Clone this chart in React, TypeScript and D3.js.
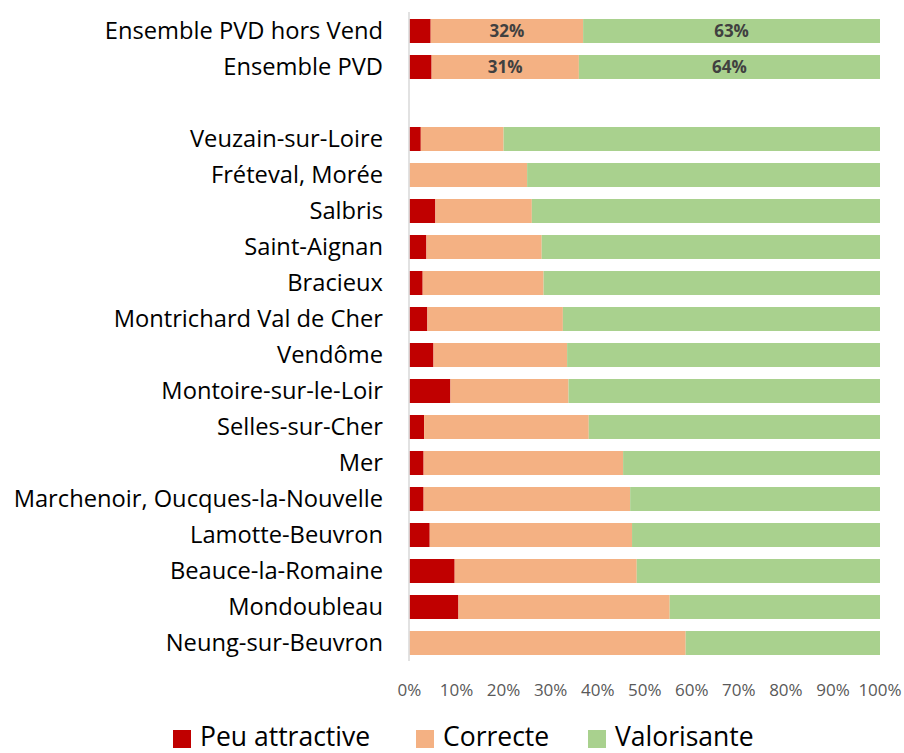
import React from "react";
import * as d3 from "d3";

const categories = [
  "Ensemble PVD hors Vend",
  "Ensemble PVD ",
  "Veuzain-sur-Loire",
  "Fréteval, Morée",
  "Salbris",
  "Saint-Aignan",
  "Bracieux",
  "Montrichard Val de Cher",
  "Vendôme",
  "Montoire-sur-le-Loir",
  "Selles-sur-Cher",
  "Mer",
  "Marchenoir, Oucques-la-Nouvelle",
  "Lamotte-Beuvron",
  "Beauce-la-Romaine",
  "Mondoubleau",
  "Neung-sur-Beuvron",
];
const peuAttractive = [4.5, 4.7, 2.4, 0, 5.5, 3.6, 2.8, 3.8, 5.1, 8.7, 3.1, 3.0, 3.0, 4.3, 9.6, 10.4, 0];
const correcte = [32.4, 31.3, 17.6, 25.0, 20.5, 24.5, 25.7, 28.8, 28.4, 25.1, 35.0, 42.4, 43.9, 43.0, 38.7, 44.9, 58.7];
const valorisante = [63.1, 64.0, 80.0, 75.0, 74.0, 71.9, 71.5, 67.4, 66.5, 66.2, 61.9, 54.6, 53.1, 52.7, 51.7, 44.7, 41.3];
const labelledRows = [0, 1];
const seriesNames = ["Peu attractive", "Correcte", "Valorisante"];
const colors = ["#C00000", "#F4B183", "#A9D18E"];
const ticks = [0, 10, 20, 30, 40, 50, 60, 70, 80, 90, 100];

const FONT = "'Open Sans', sans-serif";

export default function App() {
  const W = 904, H = 753;
  const GAP = "__gap__";
  const domain = [categories[0], categories[1], GAP, ...categories.slice(2)];
  const y = d3.scaleBand<string>().domain(domain).range([13, 661]).paddingInner(1 / 3).paddingOuter(1 / 6);
  const x = d3.scaleLinear().domain([0, 100]).range([409.5, 880]);
  const series = [peuAttractive, correcte, valorisante];
  const stackData = categories.map((c, i) => ({ cat: c, s0: peuAttractive[i], s1: correcte[i], s2: valorisante[i] }));
  const stacked = d3.stack<any>().keys(["s0", "s1", "s2"])(stackData);

  const legendX = [173, 416, 588];

  return (
    <svg width={W} height={H} style={{ position: "absolute", left: 0, top: 0, background: "#fff" }}>
      {stacked.map((layer, li) => (
        <g key={li}>
          {layer.map((d, i) => {
            const y0 = y(categories[i])!;
            const w = x(d[1]) - x(d[0]);
            if (w <= 0) return null;
            return (
              <rect key={i} x={x(d[0])} y={y0} width={w} height={y.bandwidth()} fill={colors[li]} />
            );
          })}
        </g>
      ))}
      {labelledRows.map((i) =>
        [1, 2].map((li) => {
          const d = stacked[li][i];
          const v = series[li][i];
          return (
            <text
              key={`${i}-${li}`}
              x={(x(d[0]) + x(d[1])) / 2}
              y={y(categories[i])! + y.bandwidth() / 2}
              dy="0.35em"
              textAnchor="middle"
              fontFamily={FONT}
              fontWeight={700}
              fontSize={17}
              fill="#404040"
            >
              {Math.round(v)}%
            </text>
          );
        })
      )}
      <line x1={409} x2={409} y1={12} y2={661} stroke="#D9D9D9" strokeWidth={1.5} />
      {categories.map((c, i) => (
        <text
          key={c}
          x={383}
          y={y(c)! + y.bandwidth() / 2}
          dy="0.35em"
          textAnchor="end"
          fontFamily={FONT}
          fontSize={23.7}
          fill="#000"
        >
          {c}
        </text>
      ))}
      {ticks.map((t) => (
        <text key={t} x={x(t)} y={690} dy="0.35em" textAnchor="middle" fontFamily={FONT} fontSize={17} fill="#595959">
          {t}%
        </text>
      ))}
      {seriesNames.map((n, i) => (
        <g key={n}>
          <rect x={legendX[i]} y={730} width={18} height={18} fill={colors[i]} />
          <text x={legendX[i] + 27} y={746} fontFamily={FONT} fontSize={26.5} fill="#000">
            {n}
          </text>
        </g>
      ))}
    </svg>
  );
}
